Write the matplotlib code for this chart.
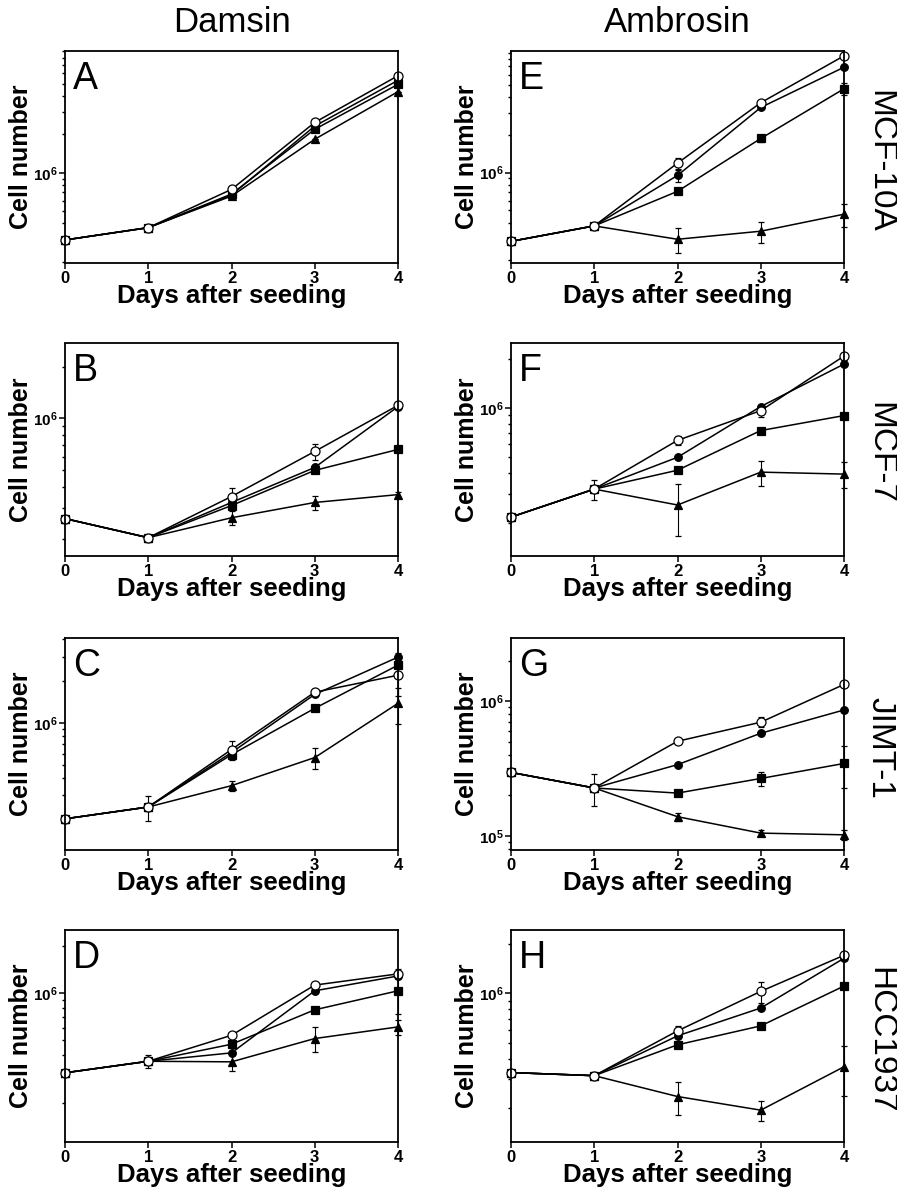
import numpy as np
import matplotlib
matplotlib.use('Agg')
import matplotlib.pyplot as plt
from matplotlib.ticker import LogLocator, NullFormatter, FixedLocator

plt.rcParams['font.family'] = ['Liberation Sans', 'DejaVu Sans']
plt.rcParams['mathtext.fontset'] = 'custom'
plt.rcParams['mathtext.bf'] = 'Liberation Sans:bold'
plt.rcParams['mathtext.rm'] = 'Liberation Sans'

days = [0, 1, 2, 3, 4]
panels = ['A', 'B', 'C', 'D', 'E', 'F', 'G', 'H']
drugs = ['Damsin', 'Ambrosin']
cell_lines = ['MCF-10A', 'MCF-7', 'JIMT-1', 'HCC1937']

# cell numbers per panel (A..H), one row per panel
open_cells = [
    [2.97e5, 3.71e5, 7.4e5, 2.48e6, 5.76e6],
    [2.62e5, 2.03e5, 3.52e5, 6.43e5, 1.19e6],
    [2.03e5, 2.47e5, 6.41e5, 1.66e6, 2.2e6],
    [3.1e5, 3.67e5, 5.37e5, 1.12e6, 1.32e6],
    [2.84e5, 3.77e5, 1.19e6, 3.6e6, 8.5e6],
    [2.16e5, 3.2e5, 6.34e5, 9.63e5, 2.07e6],
    [2.96e5, 2.27e5, 5.04e5, 6.98e5, 1.33e6],
    [3.29e5, 3.15e5, 5.91e5, 1.03e6, 1.71e6],
]
circle_cells = [
    [2.97e5, 3.71e5, 6.7e5, 2.32e6, 5.3e6],
    [2.62e5, 2.03e5, 3.25e5, 5.19e5, 1.17e6],
    [2.03e5, 2.47e5, 6.1e5, 1.6e6, 2.97e6],
    [3.1e5, 3.67e5, 4.15e5, 1.03e6, 1.28e6],
    [2.84e5, 3.77e5, 9.5e5, 3.3e6, 6.9e6],
    [2.16e5, 3.2e5, 5.0e5, 1.02e6, 1.85e6],
    [2.96e5, 2.27e5, 3.38e5, 5.78e5, 8.6e5],
    [3.29e5, 3.15e5, 5.51e5, 8.15e5, 1.64e6],
]
square_cells = [
    [2.97e5, 3.71e5, 6.8e5, 2.19e6, 4.93e6],
    [2.62e5, 2.03e5, 3.12e5, 4.99e5, 6.6e5],
    [2.03e5, 2.47e5, 5.89e5, 1.27e6, 2.6e6],
    [3.1e5, 3.67e5, 4.71e5, 7.8e5, 1.03e6],
    [2.84e5, 3.77e5, 7.1e5, 1.87e6, 4.65e6],
    [2.16e5, 3.2e5, 4.17e5, 7.28e5, 8.98e5],
    [2.96e5, 2.27e5, 2.08e5, 2.67e5, 3.45e5],
    [3.29e5, 3.15e5, 4.86e5, 6.34e5, 1.11e6],
]
tri_cells = [
    [2.97e5, 3.71e5, 6.56e5, 1.83e6, 4.32e6],
    [2.62e5, 2.03e5, 2.65e5, 3.25e5, 3.61e5],
    [2.03e5, 2.47e5, 3.52e5, 5.61e5, 1.38e6],
    [3.1e5, 3.67e5, 3.64e5, 5.12e5, 6.07e5],
    [2.84e5, 3.77e5, 2.95e5, 3.42e5, 4.67e5],
    [2.16e5, 3.2e5, 2.56e5, 4.06e5, 3.95e5],
    [2.96e5, 2.27e5, 1.39e5, 1.05e5, 1.02e5],
    [3.29e5, 3.15e5, 2.35e5, 1.94e5, 3.57e5],
]

# error bars (SD)
open_err = [
    [0, 1.5e4, 2e4, 8e4, 1.5e5],
    [0, 0, 4.3e4, 7e4, 0],
    [0, 5e4, 1e5, 5e4, 6.5e5],
    [0, 3.6e4, 0, 0, 1e5],
    [0, 1e4, 1.2e5, 1.5e5, 0],
    [0, 4.5e4, 4e4, 8e4, 1e5],
    [0, 6e4, 1.5e4, 6e4, 0],
    [0, 1.5e4, 4e4, 1.5e5, 0],
]
circle_err = [
    [0, 0, 0, 0, 0],
    [0, 0, 0, 0, 0],
    [0, 0, 0, 0, 2e5],
    [0, 0, 0, 0, 0],
    [0, 0, 1e5, 1e5, 0],
    [0, 0, 0, 0, 0],
    [0, 0, 0, 2e4, 0],
    [0, 0, 0, 0, 0],
]
square_err = [
    [0, 0, 0, 0, 0],
    [0, 0, 0, 0, 0],
    [0, 0, 0, 0, 0],
    [0, 0, 0, 0, 3e5],
    [0, 0, 0, 1.2e5, 5e5],
    [0, 0, 0, 0, 0],
    [0, 0, 0, 3.3e4, 1.2e5],
    [0, 0, 0, 0, 0],
]
tri_err = [
    [0, 0, 0, 0, 0],
    [0, 0, 2.5e4, 3e4, 1.5e4],
    [0, 0, 3e4, 1e5, 4e5],
    [0, 0, 4.8e4, 9e4, 6.7e4],
    [0, 0, 6.5e4, 6.6e4, 1.0e5],
    [0, 0, 9e4, 7e4, 7e4],
    [0, 0, 1e4, 5e3, 9e3],
    [0, 0, 5.5e4, 2.8e4, 1.2e5],
]

y_limits = [
    (1.96e5, 9.0e6), (1.6e5, 2.72e6), (1.21e5, 4.08e6), (1.125e5, 2.51e6),
    (1.91e5, 9.29e6), (1.26e5, 2.47e6), (7.87e4, 2.94e6), (1.24e5, 2.44e6),
]

W, H = 897, 1187
fig = plt.figure(figsize=(W / 100, H / 100), dpi=100)

col_x = [65, 511]
row_top = [51, 343.5, 638, 930]
aw, ah = 333, 212

styles = [
    (tri_cells, tri_err, dict(marker='^', mfc='black', ms=5.5)),
    (square_cells, square_err, dict(marker='s', mfc='black', ms=5.5)),
    (circle_cells, circle_err, dict(marker='o', mfc='black', ms=5.5)),
    (open_cells, open_err, dict(marker='o', mfc='white', ms=6.5)),
]

for p in range(8):
    col, row = p // 4, p % 4
    ax = fig.add_axes([col_x[col] / W, 1 - (row_top[row] + ah) / H, aw / W, ah / H])
    ax.set_yscale('log')
    for vals, errs, st in styles:
        eb = ax.errorbar(days, vals[p], yerr=errs[p], color='black', lw=1.1,
                         mec='black', mew=0.9, elinewidth=0.8, capsize=2.5,
                         capthick=0.8, **st)
        for a in eb.lines[0:1] + tuple(eb.lines[1]) + tuple(eb.lines[2]):
            a.set_clip_on(False)
    lo, hi = y_limits[p]
    ax.set_xlim(0, 4)
    ax.set_ylim(lo, hi)
    dec = [10.0 ** k for k in range(3, 9) if lo <= 10.0 ** k <= hi]
    ax.yaxis.set_major_locator(FixedLocator(dec))
    ax.set_yticklabels([r'$\mathbf{10^{%d}}$' % int(round(np.log10(d))) for d in dec])
    ax.yaxis.set_minor_locator(LogLocator(base=10, subs=np.arange(2, 10)))
    ax.yaxis.set_minor_formatter(NullFormatter())
    ax.set_xticks(days)
    ax.set_xticklabels([str(d) for d in days], fontweight='bold', fontsize=12)
    ax.tick_params(axis='x', direction='out', length=4, width=1.1, pad=2)
    ax.tick_params(axis='y', which='major', direction='out', length=4, width=1.1,
                   labelsize=11, pad=1)
    ax.tick_params(axis='y', which='minor', direction='out', length=2.5, width=1.0)
    for s in ax.spines.values():
        s.set_linewidth(1.3)
    ax.set_ylabel('Cell number', fontsize=18, fontweight='bold')
    ax.yaxis.set_label_coords(-0.096, 0.5)
    ax.set_xlabel('Days after seeding', fontsize=18.5, fontweight='bold')
    ax.xaxis.set_label_coords(0.5, -0.1)
    ax.text(0.024, 0.955, panels[p], transform=ax.transAxes, fontsize=27,
            ha='left', va='top')

for c in range(2):
    fig.text((col_x[c] + aw / 2) / W, 1 - 22 / H, drugs[c], fontsize=25,
             ha='center', va='center')

for r in range(4):
    fig.text(880 / W, 1 - (row_top[r] + ah / 2 + 4) / H, cell_lines[r], fontsize=24,
             rotation=270, ha='center', va='center')

fig.savefig('out.png', dpi=100)
